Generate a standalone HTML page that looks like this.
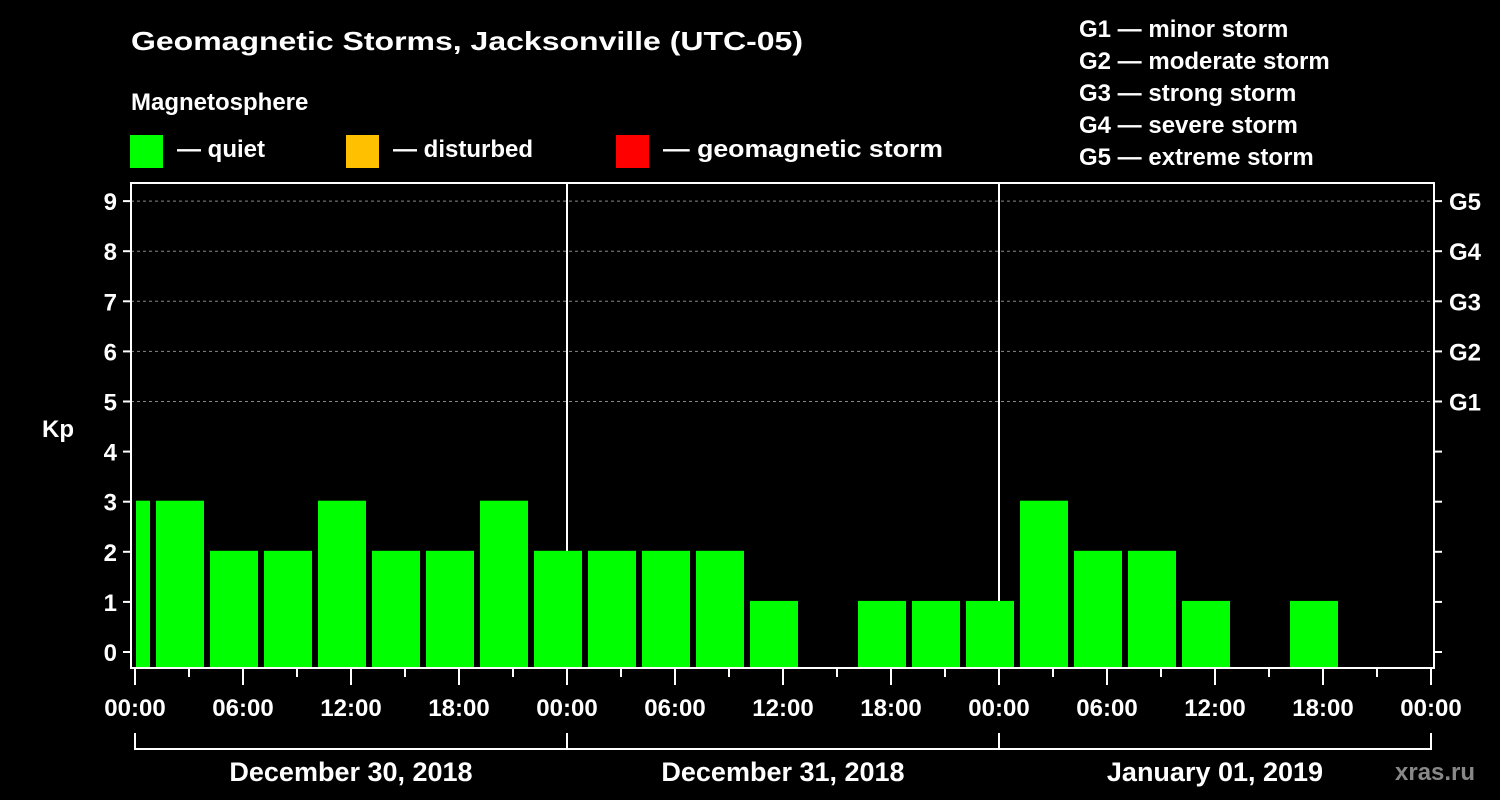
<!DOCTYPE html>
<html><head><meta charset="utf-8"><style>
html,body{margin:0;padding:0;background:#000;}
svg{display:block;font-family:"Liberation Sans",Arial,sans-serif;font-weight:bold;}
</style></head><body>
<svg id="chart" width="1500" height="800" viewBox="0 0 1500 800">
<rect width="1500" height="800" fill="#000"/>
<text x="131" y="50" font-size="26" fill="#fff" textLength="672" lengthAdjust="spacingAndGlyphs">Geomagnetic Storms, Jacksonville (UTC-05)</text>
<text x="131" y="110" font-size="24" fill="#fff">Magnetosphere</text>
<g><rect x="130" y="135" width="33" height="33" fill="#00ff00"/><text x="177" y="157" font-size="24" fill="#fff">— quiet</text></g>
<g><rect x="346" y="135" width="33" height="33" fill="#ffc000"/><text x="393" y="157" font-size="24" fill="#fff">— disturbed</text></g>
<g><rect x="616" y="135" width="33" height="33" fill="#ff0000"/><text x="663" y="157" font-size="24" fill="#fff" textLength="280" lengthAdjust="spacingAndGlyphs">— geomagnetic storm</text></g>
<g font-size="24" fill="#fff">
<text x="1079" y="37">G1 — minor storm</text>
<text x="1079" y="69">G2 — moderate storm</text>
<text x="1079" y="101">G3 — strong storm</text>
<text x="1079" y="133">G4 — severe storm</text>
<text x="1079" y="165">G5 — extreme storm</text>
</g>
<g id="grid"></g>
<g id="bars"></g>
<g id="axes"></g>
<text x="42" y="437" font-size="24" fill="#fff">Kp</text>
<text x="1395" y="780" font-size="24" fill="#888">xras.ru</text>
</svg>
<script>
const kpValues = [3,3,2,2,3,2,2,3,2,2,2,2,1,null,1,1,1,3,2,2,1,null,1,null,null];
const yTicks = [0,1,2,3,4,5,6,7,8,9];
const gLabels = ['G1','G2','G3','G4','G5'];
const hourLabels = ['00:00','06:00','12:00','18:00','00:00','06:00','12:00','18:00','00:00','06:00','12:00','18:00','00:00'];
const dayLabels = ['December 30, 2018','December 31, 2018','January 01, 2019'];

const NS='http://www.w3.org/2000/svg';
const X0=135, PXH=18, TOTALH=72, PLOTL=131, PLOTR=1434, PLOTT=183, PLOTB=668;
const xH=h=>X0+h*PXH;
const yK=k=>652-k*50.1;
function mk(tag,attrs,parent){const e=document.createElementNS(NS,tag);for(const k in attrs)e.setAttribute(k,attrs[k]);parent.appendChild(e);return e;}
const grid=document.getElementById('grid'),bars=document.getElementById('bars'),axes=document.getElementById('axes');

yTicks.forEach(k=>{
  if(k>=5){const l=mk('line',{x1:PLOTL,x2:PLOTR,y1:yK(k),y2:yK(k),stroke:'#888','stroke-dasharray':'3,3','stroke-width':1},grid);
  
  }
  mk('line',{x1:PLOTL-8,x2:PLOTL,y1:yK(k),y2:yK(k),stroke:'#fff','stroke-width':2},axes);
  mk('line',{x1:PLOTR,x2:PLOTR+8,y1:yK(k),y2:yK(k),stroke:'#fff','stroke-width':2},axes);
  const t=mk('text',{x:PLOTL-14,y:yK(k)+9,'font-size':24,fill:'#fff','text-anchor':'end'},axes);
  t.textContent=k;
  
  
});
gLabels.forEach((g,i)=>{
  const t=mk('text',{x:PLOTR+15,y:yK(5+i)+9,'font-size':24,fill:'#fff'},axes);
  t.textContent=g;
  
  
});
// day separators
for(let d=1;d<3;d++){const l=mk('line',{x1:xH(d*24),x2:xH(d*24),y1:PLOTT,y2:PLOTB,stroke:'#fff','stroke-width':2},grid);

}

kpValues.forEach((v,i)=>{
  if(v===null)return;
  const h0=-2+3*i, h1=h0+3;
  let x1=xH(h0)+3, x2=xH(h1)-3;
  x1=Math.max(x1,X0+1); x2=Math.min(x2,PLOTR-1);
  if(x2<=x1)return;
  const top=yK(v)-1;
  const r=mk('rect',{x:x1,y:top,width:x2-x1,height:PLOTB-top,fill:'#00ff00'},bars);
  
  
});

const frame=mk('rect',{x:PLOTL,y:PLOTT,width:PLOTR-PLOTL,height:PLOTB-PLOTT,fill:'none',stroke:'#fff','stroke-width':2},axes);



for(let h=0;h<=TOTALH;h+=3){
  const major=h%6===0;
  mk('line',{x1:xH(h),x2:xH(h),y1:PLOTB,y2:PLOTB+(major?17:9),stroke:'#fff','stroke-width':2},axes);
}
hourLabels.forEach((s,i)=>{
  const t=mk('text',{x:xH(i*6),y:716,'font-size':24,fill:'#fff','text-anchor':'middle'},axes);
  t.textContent=s;
  
  
});
mk('path',{d:`M${xH(0)} 733 V749 H${xH(72)} V733`,fill:'none',stroke:'#fff','stroke-width':2},axes);
for(let d=1;d<3;d++)mk('line',{x1:xH(d*24),x2:xH(d*24),y1:733,y2:749,stroke:'#fff','stroke-width':2},axes);
dayLabels.forEach((s,i)=>{
  const t=mk('text',{x:xH(i*24+12),y:781,'font-size':27,fill:'#fff','text-anchor':'middle'},axes);
  t.textContent=s;
  
  
});
</script>
</body></html>
